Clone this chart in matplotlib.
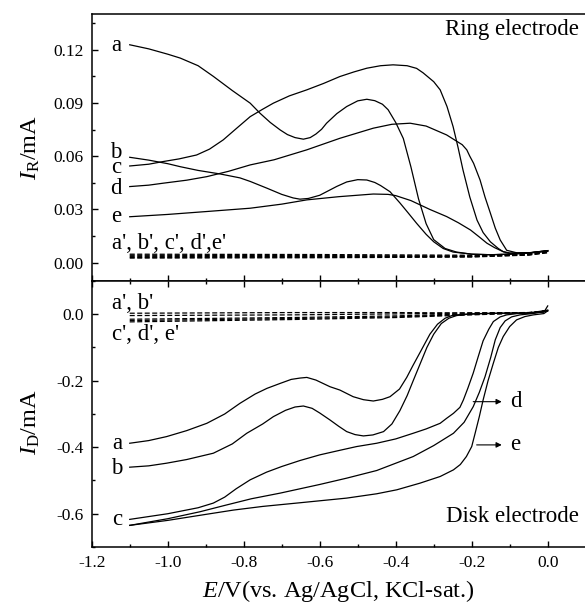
import matplotlib
matplotlib.use("Agg")
import matplotlib.pyplot as plt
from matplotlib.ticker import MultipleLocator, FormatStrFormatter

plt.rcParams["font.family"] = ["Liberation Serif", "DejaVu Serif"]
plt.rcParams["mathtext.fontset"] = "custom"
plt.rcParams["mathtext.rm"] = "Liberation Serif"
plt.rcParams["mathtext.it"] = "Liberation Serif:italic"
plt.rcParams["axes.unicode_minus"] = False

# ---- ring electrode (top panel) ----
ring_a_x = [-1.10, -1.05, -1.00, -0.967, -0.92, -0.88, -0.83, -0.783, -0.757, -0.73, -0.704,
            -0.685, -0.665, -0.643, -0.625, -0.61, -0.595, -0.582, -0.555, -0.529, -0.50, -0.476,
            -0.455, -0.435, -0.42, -0.40, -0.38, -0.36, -0.34, -0.32, -0.30, -0.27, -0.24, -0.20,
            -0.15, -0.10, -0.05, 0.0]
ring_a_y = [0.1228, 0.1205, 0.1175, 0.1153, 0.1110, 0.1050, 0.0970, 0.0899, 0.0842, 0.0790, 0.0748,
            0.0722, 0.0705, 0.0696, 0.0705, 0.0725, 0.0752, 0.0786, 0.0840, 0.0880, 0.0912, 0.0921,
            0.0913, 0.0893, 0.0862, 0.0790, 0.0700, 0.0540, 0.0360, 0.0220, 0.0130, 0.0080,
            0.0060, 0.0048, 0.0045, 0.0048, 0.0055, 0.0065]

ring_b_x = [-1.10, -1.05, -1.00, -0.967, -0.92, -0.862, -0.81, -0.783, -0.739, -0.70, -0.67,
            -0.652, -0.63, -0.60, -0.582, -0.555, -0.529, -0.50, -0.476, -0.455, -0.44, -0.415,
            -0.389, -0.367, -0.345, -0.32, -0.30, -0.275, -0.249, -0.20, -0.15, -0.10, -0.05, 0.0]
ring_b_y = [0.0594, 0.0578, 0.0558, 0.0541, 0.0520, 0.0500, 0.0478, 0.0458, 0.0420, 0.0385, 0.0365,
            0.0358, 0.0362, 0.0380, 0.0400, 0.0430, 0.0455, 0.0468, 0.0466, 0.0452, 0.0435, 0.0400,
            0.0337, 0.0280, 0.0222, 0.0160, 0.0118, 0.0080, 0.0060, 0.0048, 0.0045, 0.0048,
            0.0055, 0.0065]

ring_c_x = [-1.10, -1.05, -1.012, -0.97, -0.924, -0.89, -0.854, -0.82, -0.783, -0.75, -0.722,
            -0.68, -0.634, -0.59, -0.547, -0.51, -0.476, -0.44, -0.407, -0.37, -0.345, -0.328,
            -0.30, -0.283, -0.265, -0.249, -0.236, -0.223, -0.205, -0.186, -0.17, -0.151, -0.13,
            -0.117, -0.10, -0.05, 0.0]
ring_c_y = [0.0545, 0.0555, 0.0570, 0.0585, 0.0607, 0.0640, 0.0692, 0.0755, 0.0823, 0.0865, 0.0899,
            0.0940, 0.0974, 0.1010, 0.1049, 0.1075, 0.1096, 0.1110, 0.1115, 0.1110, 0.1095, 0.1070,
            0.1020, 0.0974, 0.0880, 0.0767, 0.0650, 0.0523, 0.0370, 0.0240, 0.0170, 0.0118,
            0.0080, 0.0062, 0.0052, 0.0055, 0.0068]

ring_d_x = [-1.10, -1.05, -1.012, -0.95, -0.897, -0.84, -0.783, -0.72, -0.634, -0.547, -0.459,
            -0.41, -0.362, -0.32, -0.266, -0.24, -0.225, -0.213, -0.205, -0.195, -0.178, -0.165,
            -0.151, -0.138, -0.125, -0.108, -0.08, -0.04, 0.0]
ring_d_y = [0.0429, 0.0437, 0.0448, 0.0465, 0.0485, 0.0515, 0.0551, 0.0580, 0.0636, 0.0701, 0.0758,
            0.0780, 0.0786, 0.0770, 0.0720, 0.0685, 0.0665, 0.0636, 0.0600, 0.0560, 0.0466,
            0.0370, 0.0280, 0.0195, 0.0128, 0.0070, 0.0055, 0.0057, 0.0068]

ring_e_x = [-1.10, -1.00, -0.90, -0.783, -0.70, -0.634, -0.55, -0.459, -0.42, -0.40, -0.36, -0.31,
            -0.266, -0.235, -0.203, -0.18, -0.16, -0.14, -0.117, -0.10, -0.05, 0.0]
ring_e_y = [0.0259, 0.0272, 0.0288, 0.0307, 0.0330, 0.0354, 0.0372, 0.0387, 0.0385, 0.0378, 0.0350,
            0.0300, 0.0260, 0.0225, 0.0184, 0.0145, 0.0110, 0.0085, 0.0062, 0.0055, 0.0056, 0.0068]

ring_blank_x = [-1.10, -0.60, -0.20, -0.05, 0.0]
ring_blank_y = [[0.0048, 0.0046, 0.0042, 0.0050, 0.0066],
                [0.0042, 0.0040, 0.0038, 0.0047, 0.0062],
                [0.0036, 0.0035, 0.0036, 0.0045, 0.0060],
                [0.0030, 0.0031, 0.0034, 0.0044, 0.0058],
                [0.0026, 0.0028, 0.0032, 0.0043, 0.0056]]

# ---- disk electrode (bottom panel) ----
disk_a_x = [-1.10, -1.05, -1.003, -0.95, -0.897, -0.85, -0.81, -0.77, -0.739, -0.704, -0.675,
            -0.652, -0.634, -0.61, -0.573, -0.547, -0.512, -0.485, -0.459, -0.435, -0.415,
            -0.39, -0.371, -0.355, -0.336, -0.31, -0.29, -0.27, -0.25, -0.22, -0.18, -0.12,
            -0.05, -0.01, 0.0]
disk_a_y = [-0.388, -0.380, -0.368, -0.350, -0.328, -0.300, -0.268, -0.240, -0.223, -0.208, -0.196,
            -0.192, -0.190, -0.198, -0.218, -0.228, -0.248, -0.257, -0.261, -0.256, -0.248,
            -0.225, -0.190, -0.155, -0.115, -0.060, -0.030, -0.012, -0.003, 0.000, 0.002, 0.003,
            0.004, 0.006, 0.025]

disk_b_x = [-1.10, -1.05, -1.003, -0.95, -0.88, -0.83, -0.792, -0.75, -0.722, -0.69, -0.665,
            -0.643, -0.62, -0.60, -0.573, -0.55, -0.529, -0.507, -0.485, -0.46, -0.432, -0.41,
            -0.389, -0.37, -0.354, -0.336, -0.318, -0.30, -0.28, -0.26, -0.24, -0.21, -0.17,
            -0.12, -0.05, 0.0]
disk_b_y = [-0.460, -0.456, -0.448, -0.437, -0.418, -0.390, -0.358, -0.330, -0.308, -0.289, -0.279,
            -0.276, -0.283, -0.297, -0.318, -0.337, -0.353, -0.362, -0.366, -0.363, -0.353, -0.330,
            -0.290, -0.245, -0.200, -0.150, -0.100, -0.060, -0.028, -0.012, -0.004, 0.000, 0.002,
            0.003, 0.004, 0.012]

disk_c_x = [-1.10, -1.00, -0.92, -0.88, -0.85, -0.82, -0.783, -0.74, -0.70, -0.652, -0.60, -0.55,
            -0.503, -0.45, -0.40, -0.354, -0.32, -0.283, -0.266, -0.248, -0.231, -0.222, -0.21,
            -0.196, -0.183, -0.17, -0.155, -0.143, -0.125, -0.108, -0.08, -0.04, 0.0]
disk_c_y = [-0.617, -0.600, -0.582, -0.568, -0.550, -0.525, -0.498, -0.475, -0.458, -0.440, -0.423,
            -0.410, -0.398, -0.388, -0.375, -0.358, -0.345, -0.328, -0.313, -0.298, -0.280,
            -0.258, -0.222, -0.177, -0.128, -0.080, -0.045, -0.022, -0.008, -0.002, 0.002,
            0.003, 0.012]

disk_d_x = [-1.10, -1.00, -0.915, -0.85, -0.78, -0.704, -0.652, -0.60, -0.529, -0.45, -0.354,
            -0.30, -0.248, -0.22, -0.196, -0.18, -0.165, -0.15, -0.138, -0.125, -0.112, -0.095,
            -0.073, -0.04, 0.0]
disk_d_y = [-0.635, -0.615, -0.594, -0.575, -0.555, -0.538, -0.525, -0.512, -0.493, -0.470, -0.428,
            -0.395, -0.358, -0.325, -0.278, -0.235, -0.188, -0.130, -0.077, -0.040, -0.020,
            -0.008, -0.002, 0.002, 0.010]

disk_e_x = [-1.10, -1.00, -0.90, -0.827, -0.75, -0.652, -0.529, -0.45, -0.397, -0.336, -0.283,
            -0.248, -0.23, -0.214, -0.20, -0.191, -0.18, -0.17, -0.157, -0.143, -0.13, -0.117,
            -0.10, -0.082, -0.06, -0.038, -0.01, 0.0]
disk_e_y = [-0.635, -0.620, -0.602, -0.589, -0.578, -0.567, -0.553, -0.540, -0.528, -0.508, -0.488,
            -0.468, -0.452, -0.428, -0.398, -0.358, -0.308, -0.258, -0.200, -0.147, -0.100, -0.067,
            -0.037, -0.017, -0.007, -0.002, 0.002, 0.010]

disk_blank_x = [-1.10, -0.678, -0.40, -0.25, -0.05, 0.0]
disk_blank_y = [[0.003, 0.005, 0.005, 0.004, 0.005, 0.010],
                [-0.004, -0.002, 0.001, 0.003, 0.005, 0.010],
                [-0.015, -0.010, -0.005, 0.000, 0.004, 0.010],
                [-0.019, -0.013, -0.008, -0.002, 0.004, 0.010],
                [-0.023, -0.016, -0.010, -0.004, 0.004, 0.010]]

fig = plt.figure(figsize=(5.85, 6.04), dpi=100)
ax1 = fig.add_axes([0.1568, 0.5348, 0.8444, 0.4416])
ax2 = fig.add_axes([0.1568, 0.0944, 0.8444, 0.4404], sharex=ax1)

lw = 0.9
dash = (0, (4, 2))

for xs, ys in [(ring_a_x, ring_a_y), (ring_b_x, ring_b_y), (ring_c_x, ring_c_y),
               (ring_d_x, ring_d_y), (ring_e_x, ring_e_y)]:
    ax1.plot(xs, ys, color="black", lw=lw)
for ys in ring_blank_y:
    ax1.plot(ring_blank_x, ys, color="black", lw=lw, linestyle=dash)

for xs, ys in [(disk_a_x, disk_a_y), (disk_b_x, disk_b_y), (disk_c_x, disk_c_y),
               (disk_d_x, disk_d_y), (disk_e_x, disk_e_y)]:
    ax2.plot(xs, ys, color="black", lw=lw)
for ys in disk_blank_y:
    ax2.plot(disk_blank_x, ys, color="black", lw=lw, linestyle=dash)

ax1.set_xlim(-1.2, 0.1)
ax1.set_ylim(-0.0103, 0.140)
ax2.set_ylim(-0.70, 0.10)

for ax in (ax1, ax2):
    ax.spines["right"].set_visible(False)
    for s in ("left", "top", "bottom"):
        ax.spines[s].set_linewidth(1.1)
    ax.xaxis.set_major_locator(MultipleLocator(0.2))
    ax.xaxis.set_minor_locator(MultipleLocator(0.1))
    ax.tick_params(which="both", direction="in", right=False, labelsize=12.5, pad=6)
    ax.tick_params(which="major", length=4.5, width=1.0)
    ax.tick_params(which="minor", length=2.5, width=1.0)

ax1.tick_params(which="both", top=False, bottom=True, labelbottom=False)
ax2.tick_params(which="both", top=True, bottom=True)

ax1.yaxis.set_major_locator(MultipleLocator(0.03))
ax1.yaxis.set_minor_locator(MultipleLocator(0.015))
ax1.yaxis.set_major_formatter(FormatStrFormatter("%.2f"))
ax2.yaxis.set_major_locator(MultipleLocator(0.2))
ax2.yaxis.set_minor_locator(MultipleLocator(0.1))
ax2.yaxis.set_major_formatter(FormatStrFormatter("%.1f"))
ax2.xaxis.set_major_formatter(FormatStrFormatter("%.1f"))

ax1.set_ylabel(r"$I_{\mathrm{R}}$/mA", fontsize=17.5)
ax1.yaxis.set_label_coords(-0.100, 0.50)
ax2.set_ylabel(r"$I_{\mathrm{D}}$/mA", fontsize=17.5)
ax2.yaxis.set_label_coords(-0.100, 0.47)
ax2.set_xlabel(r"$E$/V(vs. Ag/AgCl, KCl-sat.)", fontsize=17.5)
ax2.xaxis.set_label_coords(0.5, -0.115)

fs = 16.5
ax1.text(0.081, 0.1312, "Ring electrode", ha="right", va="center", fontsize=fs)
for lab, yy in [("a", 0.1225), ("d", 0.0420), ("e", 0.0259)]:
    ax1.text(-1.136, yy, lab, ha="center", va="center", fontsize=fs)
# b and c sit almost on top of each other in the original
ax1.text(-1.136, 0.0578, "b\nc", ha="center", va="center", fontsize=fs, linespacing=0.62)
ax1.text(-1.147, 0.011, "a', b', c', d',e'", ha="left", va="center", fontsize=fs)

ax2.text(0.081, -0.609, "Disk electrode", ha="right", va="center", fontsize=fs)
ax2.text(-1.147, 0.033, "a', b'", ha="left", va="center", fontsize=fs)
ax2.text(-1.147, -0.062, "c', d', e'", ha="left", va="center", fontsize=fs)
for lab, yy in [("a", -0.388), ("b", -0.463), ("c", -0.617)]:
    ax2.text(-1.133, yy, lab, ha="center", va="center", fontsize=fs)

for lab, x0, yy in [("d", -0.196, -0.263), ("e", -0.187, -0.393)]:
    ax2.annotate("", xy=(-0.121, yy), xytext=(x0, yy),
                 arrowprops=dict(arrowstyle="-|>", lw=0.8, color="black", mutation_scale=8,
                                 shrinkA=0, shrinkB=0))
    ax2.text(-0.100, yy, lab, ha="left", va="center", fontsize=fs)

fig.savefig("out.png", dpi=100)
